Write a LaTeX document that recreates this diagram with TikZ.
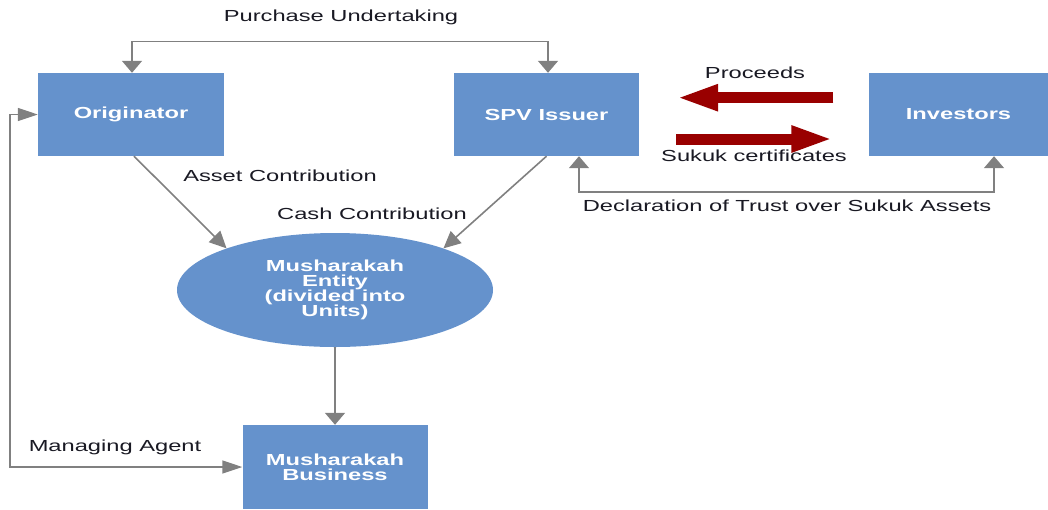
\documentclass[tikz,border=0pt]{standalone}
\usepackage{fontspec}
\setmainfont{Liberation Sans}[FakeStretch=1.48]
\usetikzlibrary{arrows.meta,shapes.geometric}
\definecolor{boxblue}{RGB}{101,146,204}
\definecolor{linegray}{RGB}{128,128,128}
\definecolor{flowred}{RGB}{153,0,0}
\definecolor{labelink}{RGB}{25,25,35}
\begin{document}
\begin{tikzpicture}[x=1pt,y=-1pt,
  vt/.tip={Triangle[length=12pt,width=20pt]},
  ht/.tip={Triangle[length=20pt,width=13pt]},
  dt/.tip={Triangle[length=17pt,width=16pt]},
  boxtext/.style={text=white, font=\bfseries\fontsize{16}{15}\selectfont, align=center},
  box/.style={boxtext, rectangle, fill=boxblue, inner sep=0pt, minimum height=83pt},
  lbl/.style={text=labelink, font=\fontsize{16}{18}\selectfont, inner sep=0pt},
  conn/.style={draw=linegray, line width=1.6pt},
  flow/.style={draw=flowred, line width=11pt, -{Triangle[length=42pt,width=24pt]}}]
\useasboundingbox (0,0) rectangle (1048,509);

% parties and entities
\node[box, minimum width=186pt] (orig) at (131,114.5) {Originator};
\node[box, minimum width=185pt] (spv) at (546.5,114.5) {SPV Issuer};
\node[box, minimum width=180pt] (inv) at (958.5,114.5) {Investors};
\node[ellipse, fill=boxblue, boxtext, minimum width=316pt, minimum height=114pt, inner sep=0pt] (ent) at (335,290)
  {Musharakah\\Entity\\(divided into\\Units)};
\node[box, minimum width=185pt, minimum height=84pt] (bus) at (335,467) {Musharakah\\Business};

% flow labels
\node[lbl] (tpu) at (341,17) {Purchase Undertaking};
\node[lbl] (tac) at (280,176) {Asset Contribution};
\node[lbl] (tcc) at (372,214) {Cash Contribution};
\node[lbl] (tpr) at (755,73) {Proceeds};
\node[lbl] (tsc) at (754,156) {Sukuk certificates};
\node[lbl] (tdt) at (787,206) {Declaration of Trust over Sukuk Assets};
\node[lbl] (tma) at (115,447) {Managing Agent};

% grey connectors
\draw[conn, vt-vt] ([xshift=1pt]orig.north) -- ++(0,-31.5) -| ([xshift=1.5pt]spv.north);
\draw[conn, ht-ht] (orig.west) -- ++(-28,0) |- (bus.west);
\draw[conn, -dt] ([xshift=3pt]orig.south) -- (ent.159);
\draw[conn, -dt] (spv.south) -- (ent.21);
\draw[conn, -vt] (ent.south) -- (bus.north);
\draw[conn, vt-vt] ([xshift=32.5pt]spv.south) -- ++(0,36) -| ([xshift=35.5pt]inv.south);

% exchange between issuer and investors
\draw[flow] ([xshift=-35pt,yshift=16.8pt]inv.west) -- ([xshift=37pt,yshift=16.8pt]spv.east);
\draw[flow] ([xshift=37pt,yshift=-24.5pt]spv.east) -- ([xshift=-35pt,yshift=-24.5pt]inv.west);
\end{tikzpicture}
\end{document}
